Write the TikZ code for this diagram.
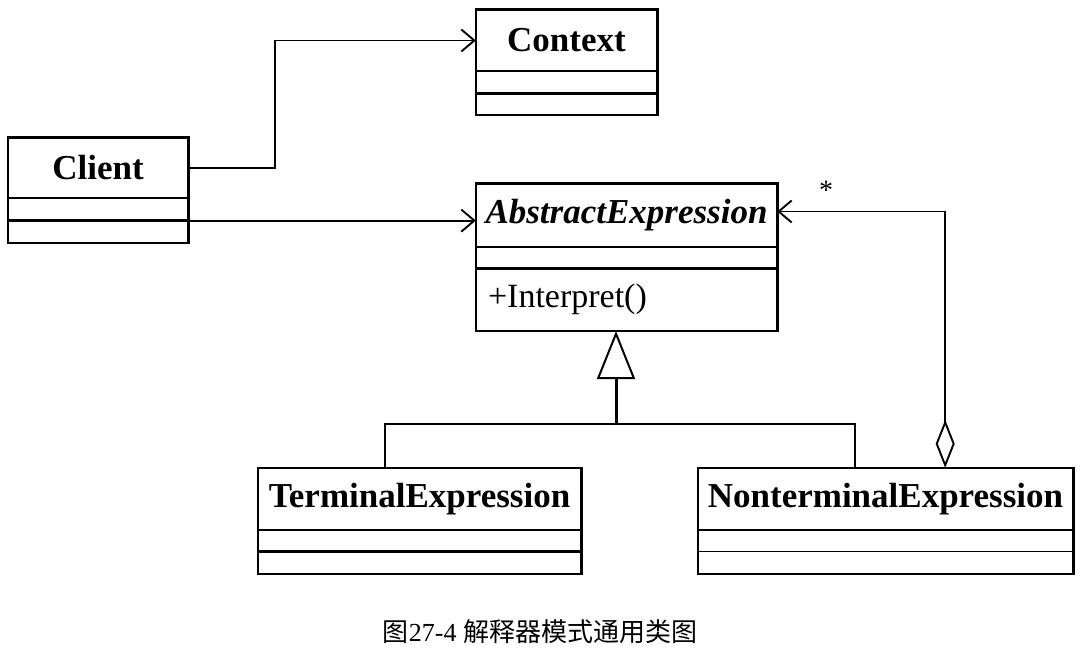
\documentclass[tikz,border=0pt]{standalone}
\usepackage{fontspec}
\setmainfont{Liberation Serif}
\newfontfamily\cjk{Noto Sans CJK SC}
\usetikzlibrary{arrows.meta,calc}
\begin{document}
\begin{tikzpicture}[x=1pt,y=-1pt,
  clsbox/.style={rectangle,inner sep=0pt,font=\fontsize{35}{40}\selectfont\bfseries},
  compbox/.style={rectangle,inner sep=0pt,anchor=north},
  outline/.style={line width=2.6pt},
  divider/.style={line width=2.4pt},
  assoc/.style={line width=1.9pt,-{Straight Barb[length=13pt,width=22pt,line width=1.9pt]}},
  genline/.style={line width=2pt},
  aggr/.style={line width=1.9pt,{Diamond[open,length=48pt,width=19pt,line width=1.9pt]}-{Straight Barb[length=13pt,width=22pt,line width=1.9pt]}}
]
\useasboundingbox (0,0) rectangle (1085,658);
% Context
\node[clsbox,minimum width=181pt,minimum height=61pt] (context) at (566.5,40.5) {Context};
\node[compbox,minimum width=181pt,minimum height=22pt] (contextA) at (context.south) {};
\node[compbox,minimum width=181pt,minimum height=21pt] (contextB) at (contextA.south) {};
\draw[outline] (context.north west) rectangle (contextB.south east);
\draw[divider] (contextA.north west) -- (contextA.north east) (contextB.north west) -- (contextB.north east);
% Client
\node[clsbox,minimum width=180pt,minimum height=60pt] (client) at (98,168) {Client};
\node[compbox,minimum width=180pt,minimum height=22pt] (clientA) at (client.south) {};
\node[compbox,minimum width=180pt,minimum height=22pt] (clientB) at (clientA.south) {};
\draw[outline] (client.north west) rectangle (clientB.south east);
\draw[divider] (clientA.north west) -- (clientA.north east) (clientB.north west) -- (clientB.north east);
% AbstractExpression
\node[clsbox,minimum width=301pt,minimum height=63pt,font=\fontsize{35}{40}\selectfont\bfseries\itshape] (abstract) at (626.5,215.5) {AbstractExpression};
\node[compbox,minimum width=301pt,minimum height=21pt] (abstractA) at (abstract.south) {};
\node[compbox,minimum width=301pt,minimum height=62pt] (abstractB) at (abstractA.south) {};
\draw[outline] (abstract.north west) rectangle (abstractB.south east);
\draw[divider] (abstractA.north west) -- (abstractA.north east) (abstractB.north west) -- (abstractB.north east);
\node[anchor=west,inner sep=0pt,font=\fontsize{34}{40}\selectfont] (interp) at ($(abstractB.west)+(12,0)$) {+Interpret()};
% TerminalExpression
\node[clsbox,minimum width=323pt,minimum height=62pt] (term) at (419.5,499) {TerminalExpression};
\node[compbox,minimum width=323pt,minimum height=21pt] (termA) at (term.south) {};
\node[compbox,minimum width=323pt,minimum height=22pt] (termB) at (termA.south) {};
\draw[outline] (term.north west) rectangle (termB.south east);
\draw[divider] (termA.north west) -- (termA.north east) (termB.north west) -- (termB.north east);
% NonterminalExpression
\node[clsbox,minimum width=375pt,minimum height=62pt] (nonterm) at (885.5,499) {NonterminalExpression};
\node[compbox,minimum width=375pt,minimum height=21pt] (nontermA) at (nonterm.south) {};
\node[compbox,minimum width=375pt,minimum height=22pt] (nontermB) at (nontermA.south) {};
\draw[outline] (nonterm.north west) rectangle (nontermB.south east);
\draw[line width=1.5pt] (nontermA.north west) -- (nontermA.north east) (nontermB.north west) -- (nontermB.north east);
% Client -> Context
\draw[assoc] (client.east) -- ++(87,0) |- (context.west);
% Client -> AbstractExpression
\draw[assoc] (clientA.south east) -- (clientA.south east -| abstract.west);
% Generalization
\coordinate (gen) at (616,424);
\coordinate (tj) at (385,424);
\coordinate (nj) at (855,424);
\draw[line width=3pt,-{Triangle[open,length=48pt,width=38pt,line width=2pt]}] (gen) -- (gen |- abstractB.south);
\draw[genline] (term.north -| tj) -- (tj) -- (nj) -- (nonterm.north -| nj);
% Aggregation
\coordinate (aggstart) at ($(nonterm.north east)+(-128,0)$);
\coordinate (aggend) at ($(abstract.east)+(0,-4)$);
\draw[aggr] (aggstart) |- (aggend);
\node[font=\fontsize{28}{30}\selectfont] (mult) at (826,190) {*};
% Caption
\node[font=\fontsize{26}{30}\selectfont] (caption) at (540,632) {{\cjk 图}27-4 {\cjk 解释器模式通用类图}};
\end{tikzpicture}
\end{document}
